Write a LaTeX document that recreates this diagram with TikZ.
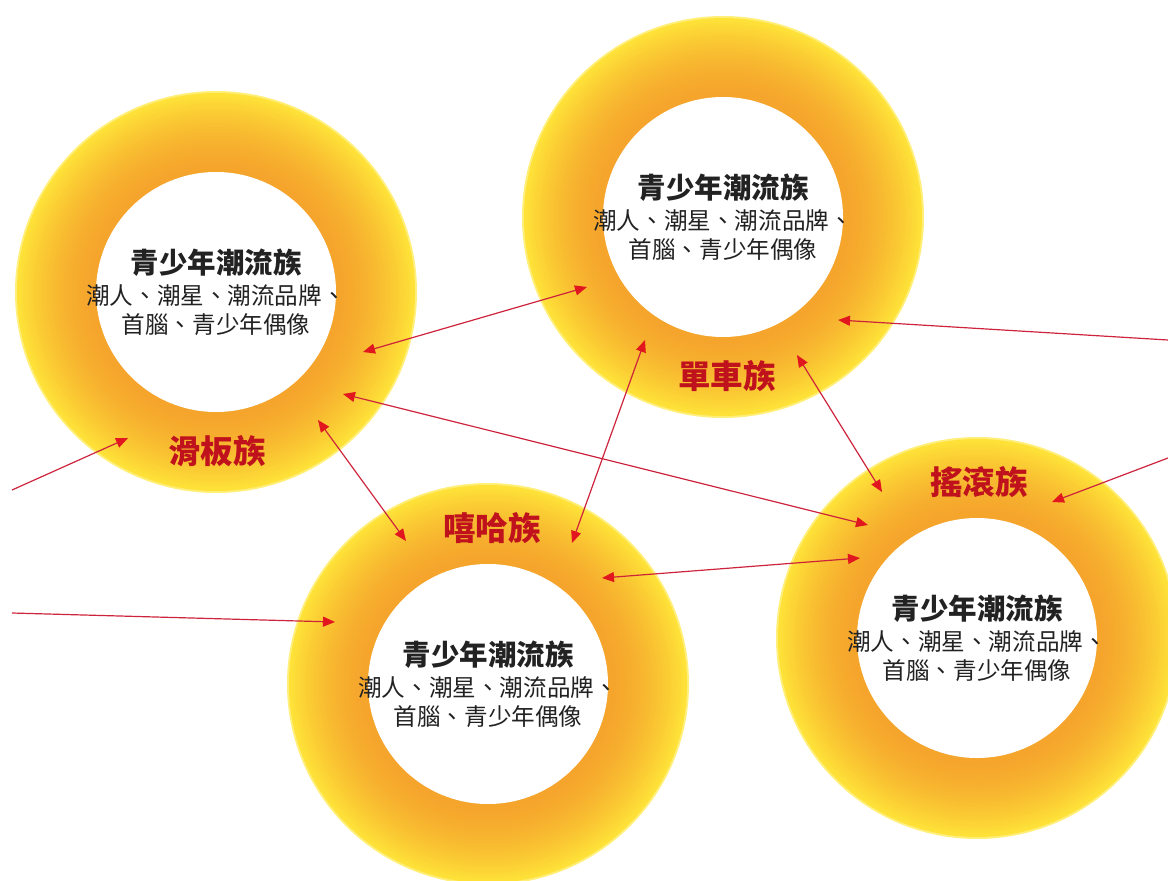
\documentclass[tikz,border=0pt]{standalone}
\usepackage{fontspec}
\usetikzlibrary{arrows.meta}
\newfontfamily\cjk{Noto Sans CJK TC}
\definecolor{ringorange}{RGB}{245,164,44}
\definecolor{ringyellow}{RGB}{254,226,56}
\definecolor{ringrim}{RGB}{255,238,120}
\definecolor{labelred}{RGB}{192,18,28}
\definecolor{linered}{RGB}{205,35,60}
\definecolor{headred}{RGB}{225,22,30}
\definecolor{textdark}{RGB}{34,34,34}
\begin{document}
\begin{tikzpicture}[x=1pt,y=-1pt,
  ring/.style={circle,minimum size=400pt,inner sep=0pt,draw=none},
  hole/.style={circle,minimum size=240pt,inner sep=0pt,fill=white,draw=none},
  title/.style={font=\cjk\bfseries\fontsize{28.5}{33}\selectfont,text=textdark,inner sep=0pt},
  body/.style={font=\cjk\fontsize{23.6}{29.5}\selectfont,text=textdark,align=center,inner sep=0pt},
  tribe/.style={font=\cjk\bfseries\fontsize{32.5}{36}\selectfont,text=labelred,inner sep=0pt},
  link/.style={draw=linered,line width=1.2pt,arrows={-Triangle[length=12pt,width=10pt,color=headred]}},
  both/.style={draw=linered,line width=1.2pt,arrows={Triangle[length=12pt,width=10pt,color=headred]-Triangle[length=12pt,width=10pt,color=headred]}}]
\useasboundingbox (0,0) rectangle (1168,881);
\begin{scope}
\clip (0,0) rectangle (1168,881);
\node[ring] (r1) at (216,292) {};
\node[ring] (r2) at (723,217) {};
\node[ring] (r3) at (488,684) {};
\node[ring] (r4) at (977,638) {};
\foreach \c in {r1,r2,r3,r4}{
  \fill[ringrim] (\c) circle[radius=201pt];
  \foreach \i in {0,...,40}{
    \pgfmathsetmacro\rad{199-2*\i}
    \pgfmathsetmacro\p{100*((\rad-119)/80)^1.6}
    \fill[ringyellow!\p!ringorange] (\c) circle[radius=\rad pt];
  }
}
\node[hole] (h1) at (r1) {};
\node[hole] (h2) at (r2) {};
\node[hole] (h3) at (r3) {};
\node[hole] (h4) at (r4) {};
\end{scope}
% arrow end points
\coordinate (s1) at (12,490);   \coordinate (e1) at (128,438);
\coordinate (s2) at (363,352);  \coordinate (e2) at (587,287);
\coordinate (s3) at (343,394);  \coordinate (e3) at (868,525);
\coordinate (s4) at (318,420);  \coordinate (e4) at (406,541);
\coordinate (s5) at (645,340);  \coordinate (e5) at (572,543);
\coordinate (s6) at (797,355);  \coordinate (e6) at (882,492);
\coordinate (s7) at (1168,340); \coordinate (e7) at (838,320);
\coordinate (s8) at (1168,458); \coordinate (e8) at (1052,502);
\coordinate (s9) at (12,613);   \coordinate (e9) at (335,622);
\coordinate (s10) at (602,578); \coordinate (e10) at (860,558);
\draw[link] (s1) -- (e1);
\draw[both] (s2) -- (e2);
\draw[both] (s3) -- (e3);
\draw[both] (s4) -- (e4);
\draw[both] (s5) -- (e5);
\draw[both] (s6) -- (e6);
\draw[link] (s7) -- (e7);
\draw[link] (s8) -- (e8);
\draw[link] (s9) -- (e9);
\draw[both] (s10) -- (e10);
% texts
\foreach \r in {1,2,3,4}{
  \node[title] (t\r) at ([yshift=29pt]r\r) {青少年潮流族};
  \node[body] (b\r) at ([yshift=-18pt]r\r) {潮人、潮星、潮流品牌、\\首腦、青少年偶像};
}
\node[tribe] (l1) at (217,451) {滑板族};
\node[tribe] (l2) at (727,376) {單車族};
\node[tribe] (l3) at (492,528) {嘻哈族};
\node[tribe] (l4) at (979,482) {搖滾族};
\end{tikzpicture}
\end{document}
